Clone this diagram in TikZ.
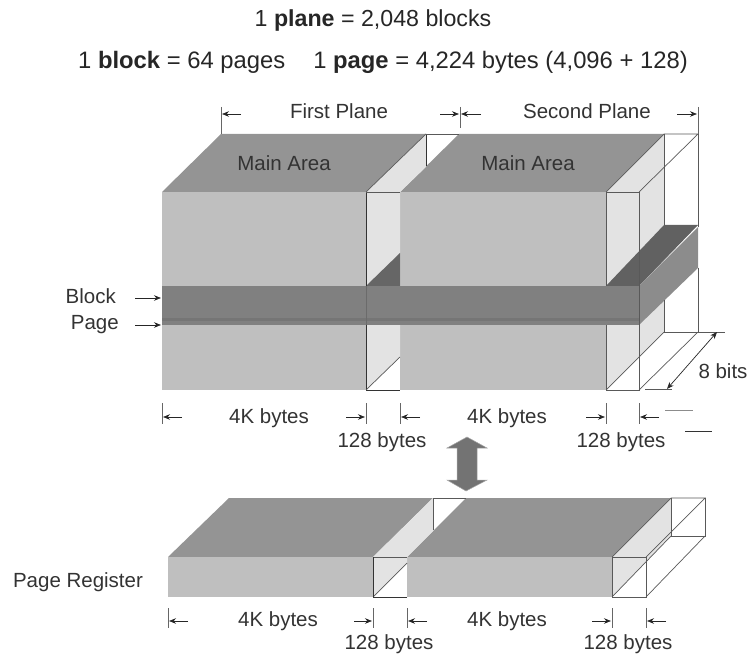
\documentclass[tikz,border=0pt]{standalone}
\usepackage{fontspec}
\setmainfont{Liberation Sans}
\usetikzlibrary{arrows.meta}
\tikzset{
  topface/.style={fill=black!42},
  frontface/.style={fill=black!25},
  spareface/.style={fill=black!11},
  bandtop/.style={fill=black!60},
  edge/.style={draw=black!65, line width=0.7pt},
  darkedge/.style={draw=black!80, line width=0.9pt},
  dim/.style={->, draw=black!85, line width=0.7pt},
  dimtick/.style={draw=black!60, line width=0.6pt},
  lbl/.style={font=\fontsize{20.5}{24}\selectfont, text=black!80, inner sep=0pt},
  headline/.style={text=black!85, inner sep=0pt}
}
\begin{document}
\begin{tikzpicture}[x=1pt, y=-1pt, >={Stealth[length=7pt,width=5.5pt]}]
  \useasboundingbox (0,0) rectangle (750,655);

  % 1. header
  \node[headline, font=\fontsize{23.2}{28}\selectfont] (planeline) at (373,21) {1 \textbf{plane} = 2,048 blocks};
  \node[headline, font=\fontsize{23.8}{28}\selectfont, anchor=west] (blockline) at (78,62) {1 \textbf{block} = 64 pages\hspace{0.9em} 1 \textbf{page} = 4,224 bytes (4,096 + 128)};

  % 2. upper block: top and front faces
  \fill[topface] (162,192) -- (221,134) -- (426,134) -- (366,192) -- cycle;
  \fill[topface] (400,192) -- (459,134) -- (664,134) -- (606,192) -- cycle;
  \fill[frontface] (162,192) rectangle (366,390);
  \fill[frontface] (400,192) rectangle (606,390);

  % 3. first spare column
  \fill[spareface] (366,192) -- (426,134) -- (426,167) -- (400,192) -- cycle;
  \fill[spareface] (366,192) -- (400,192) -- (400,357) -- (366,390) -- cycle;
  \fill[bandtop] (366,286) -- (400,253) -- (400,286) -- cycle;
  \draw[darkedge] (426,134) -- (426,166);
  \draw[edge] (459,134) -- (426,134);
  \draw[darkedge] (366,192) -- (366,390) -- (400,390);
  \draw[edge] (366,192) -- (400,192);
  \draw[edge] (366,192) -- (426,134);
  \draw[edge] (366,390) -- (400,357);

  % 4. second spare column and its side
  \fill[spareface] (606,192) -- (664,134) -- (664,167) -- (639,192) -- cycle;
  \fill[spareface] (606,192) -- (639,192) -- (639,357) -- (606,390) -- cycle;
  \fill[spareface] (639,192) -- (664,167) -- (664,332) -- (639,357) -- cycle;
  \fill[black!62] (606,286) -- (664,225) -- (698,225) -- (639,286) -- cycle;
  \fill[black!45] (639,286) -- (698,227) -- (698,268) -- (639,325) -- cycle;
  \draw[edge] (606,192) -- (606,390) -- (639,390) -- (639,192) -- cycle;
  \draw[edge] (606,192) -- (664,134) -- (698,134) -- (639,192);
  \draw[edge] (664,134) -- (664,225);
  \draw[edge] (664,300) -- (664,332) -- (725,332);
  \draw[edge] (698,134) -- (698,227);
  \draw[edge] (698,268) -- (698,332);
  \draw[darkedge] (606,286) -- (639,286);
  \draw[edge] (606,390) -- (664,332);
  \draw[edge] (639,390) -- (698,332);
  \draw[edge] (645,389) -- (672,389);

  % 5. block band and page line
  \fill[black!50] (162,286) rectangle (639,325);
  \fill[black!54] (162,318) rectangle (639,321);
  \draw[black!58, line width=0.5pt] (366,286) -- (366,325);

  % 6. lower block (page register)
  \fill[topface] (168,557) -- (229,498) -- (433,498) -- (373,557) -- cycle;
  \fill[topface] (407,557) -- (466,498) -- (671,498) -- (612,557) -- cycle;
  \fill[frontface] (168,557) rectangle (373,597);
  \fill[frontface] (407,557) rectangle (612,597);
  \fill[spareface] (373,557) -- (433,498) -- (433,531) -- (407,557) -- cycle;
  \fill[spareface] (373,557) -- (407,557) -- (407,563) -- (373,597) -- cycle;
  \draw[edge] (373,557) -- (407,557);
  \draw[edge] (433,498) -- (466,498);
  \draw[edge] (433,498) -- (433,530);
  \draw[edge] (373,597) -- (407,563);
  \draw[darkedge] (407,597) -- (373,597) -- (373,557);
  \fill[spareface] (612,557) -- (671,498) -- (671,536) -- (612,597) -- cycle;
  \draw[edge] (612,557) -- (646,557) -- (646,597) -- (612,597) -- cycle;
  \draw[edge] (612,557) -- (671,498) -- (705,498) -- (646,557);
  \draw[edge] (671,498) -- (671,536) -- (705,536) -- (705,498);
  \draw[edge] (612,597) -- (671,536);
  \draw[edge] (646,597) -- (705,536);

  % 7. labels on the faces
  \node[lbl] (firstlabel) at (339,111) {First Plane};
  \node[lbl] (secondlabel) at (587,111) {Second Plane};
  \node[lbl] (mainone) at (284,163) {Main Area};
  \node[lbl] (maintwo) at (528,163) {Main Area};
  \node[lbl, anchor=east] (blocklabel) at (116,296) {Block};
  \node[lbl, anchor=east] (pagelabel) at (119,325) {Page};
  \node[lbl] (bitslabel) at (723,371) {8 bits};
  \node[lbl] (upfour) at (269,418) {4K bytes};
  \node[lbl] (upfourb) at (507,418) {4K bytes};
  \node[lbl] (upspare) at (382,442) {128 bytes};
  \node[lbl] (upspareb) at (621,442) {128 bytes};
  \node[lbl] (reglabel) at (78,582) {Page Register};
  \node[lbl] (lowfour) at (278,621) {4K bytes};
  \node[lbl] (lowfourb) at (507,621) {4K bytes};
  \node[lbl] (lowspare) at (389,644) {128 bytes};
  \node[lbl] (lowspareb) at (628,644) {128 bytes};

  % 8. plane width marks
  \draw[dimtick] (221,107) -- (221,134);
  \draw[dimtick] (460,107) -- (460,128);
  \draw[dimtick] (698,107) -- (698,134);
  \draw[dim] (241,114) -- (222,114);
  \draw[dim] (440,114) -- (459,114);
  \draw[dim] (481,114) -- (461,114);
  \draw[dim] (677,114) -- (697,114);

  % 9. byte width marks
  \foreach \xa/\xb in {162/182, 400/420, 639/659} {
    \draw[dimtick] (\xa,403) -- (\xa,424);
    \draw[dim] (\xb,417) -- (\xa+1,417);
  }
  \foreach \xa/\xb in {366/346, 606/586} {
    \draw[dimtick] (\xa,403) -- (\xa,424);
    \draw[dim] (\xb,417) -- (\xa-1,417);
  }
  \foreach \xa/\xb in {168/188, 407/427, 646/666} {
    \draw[dimtick] (\xa,608) -- (\xa,628);
    \draw[dim] (\xb,621) -- (\xa+1,621);
  }
  \foreach \xa/\xb in {373/354, 612/592} {
    \draw[dimtick] (\xa,608) -- (\xa,628);
    \draw[dim] (\xb,621) -- (\xa-1,621);
  }

  % 10. remaining marks
  \draw[dim] (135,298) -- (161,298);
  \draw[dim] (135,325) -- (161,325);
  \draw[dim, <->] (667,389) -- (717,332);
  \draw[black!45, line width=0.6pt] (665,410) -- (693,410);
  \draw[black!80, line width=0.7pt] (685,431) -- (712,431);

  % 11. transfer arrow
  \fill[black!55, draw=black!35, line width=0.5pt] (467,437) -- (487,448) -- (477,448) -- (477,480)
    -- (487,480) -- (466,491) -- (447,480) -- (457,480) -- (457,448) -- (447,448) -- cycle;
\end{tikzpicture}
\end{document}
